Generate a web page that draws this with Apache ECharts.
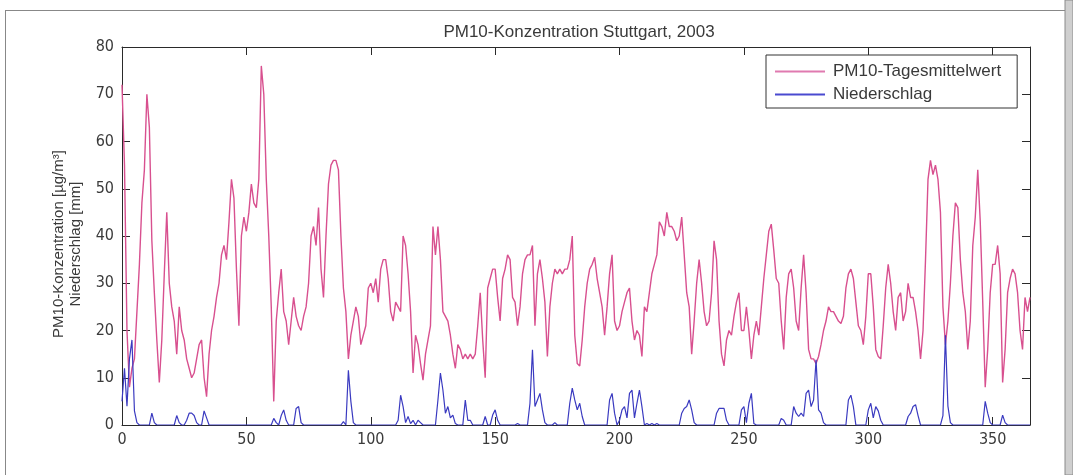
<!DOCTYPE html>
<html>
<head>
<meta charset="utf-8">
<script src="https://cdn.jsdelivr.net/npm/echarts@6/dist/echarts.min.js"></script>
<style>
html,body{margin:0;padding:0;background:#fff;}
#chart{width:1073px;height:475px;}
</style>
</head>
<body>
<div id="chart"></div>
<script>
// PM10 daily means, day 0..365
const pm10 = [
72,55,20,8,12,14,24,34,47,54,70,
63,39,28,18,9,18,32,45,30,25,
22,15,25,20,18,14,12,10,11,14,
17,18,10,6,15,20,23,27,30,36,
38,35,43,52,48,33,21,40,44,41,
45,51,47,46,52,76,70,52,40,25,
5,22,28,33,24,22,17,22,27,23,
21,20,23,25,30,40,42,38,46,33,
27,40,51,55,56,56,54,40,29,24,
14,19,22,25,23,17,19,21,29,30,
28,31,26,33,35,35,31,24,22,26,
25,24,40,38,32,24,11,19,17,13,
9.5,15,18,21,42,36,42,35,24,23,
22,19,15,12,17,16,14,15,14,15,
14,15,21,28,18,10,29,31,33,33,
27,22,31,33,36,35,27,26,21,25,
32,35,36,36,38,21,32,35,31,26,
14.5,25,30,33,32,33,32,33,33,35,
40,19,13,12.5,18,25,30,33,34,35.5,
31,28,25,19,25,32,36,22,20,21,
24,26,28,29,22,18,20,19,14.5,25,
24,28,32,34,36,43,42,40,45,42,
42,41,39,40,44,36,28,25,15,22,
30,35,30,24,21,22,28,39,35,22,
15,12.5,18,20,19,23,26,28,20,20,
25,20,14,19,22,19,25,31,36,41,
42.5,37,31,30,22,16,27,32,33,29,
22,20,29,36,28,16,14,14,13,14.5,
17,20,22,25,24,24,23,22,21.5,23,
29,32,33,31,26,21,20,17,23,32,
32,25,16,14.5,14,21,29,34,30,24,
20,27,28,22,24,30,27,27,24,20,
14,20,35,52,56,53,55,52,45,25,
17,22,30,40,47,46,35,28,24,16,
22,38,44,54,43,26,8,16,28,34,
34,38,32,9,16,28,31,33,32,28,
20,16,27,24,27
];
// Precipitation: days with rain and amounts (mm); all other days 0
const rainDays = [0,1,2,3,4,5,6,12,13,22,23,26,27,28,29,30,33,34,61,62,64,65,66,70,71,72,89,91,92,93,
111,112,113,114,115,116,117,119,120,127,128,129,130,131,132,133,134,138,139,140,146,149,150,151,159,
164,165,166,167,168,169,170,174,180,181,182,183,184,185,196,197,198,200,201,202,203,204,205,206,207,208,209,
211,213,215,225,226,227,228,229,230,239,240,241,242,243,249,250,251,252,253,254,265,266,270,271,272,273,274,
275,276,277,278,279,280,281,282,292,293,294,300,301,302,303,304,305,316,317,318,319,320,330,331,332,333,347,348,349,354,355];
const rainValues = [5,12,4,14,18,3,0.5,2.5,0.5,2,0.5,1,2.5,2.5,2,0.5,3,1.5,1.4,0.5,2,3.2,1,3.5,3.9,0.5,0.7,11.6,5,0.5,
1,6.3,3.9,0.5,1.8,0.3,1,1,0.5,5.3,11,7.4,2.5,3.9,1.5,2.1,0.3,5.3,1,1,1.8,2.1,3.2,1,0.3,
4.6,15.9,3.9,5.3,6.7,3.2,0.5,0.5,4.6,7.8,5.3,3.2,4.6,1.8,5.3,6.7,2.5,1,3.2,3.9,1.5,6.7,7.4,1.5,4.6,7.4,3.9,
0.3,0.3,0.3,2.5,3.5,3.9,5.3,3.2,0.5,2.5,3.5,3.5,3.5,1,3.2,3.9,0.5,4.6,6.7,0.3,1.4,1,3.9,2.5,1.8,2.5,1.8,
6.7,7.4,3.9,5.3,13.8,3.2,2.5,0.5,5.3,6.3,3.9,3.2,4.6,1.5,3.9,3,1,1.8,2.5,3.9,4.3,2,2,19,4,0.5,5,2.5,0.5,2.1,0.5];
const xTicks = [0,50,100,150,200,250,300,350];
const yTicks = [0,10,20,30,40,50,60,70,80];

const rain = pm10.map(() => 0);
rainDays.forEach((d, i) => { rain[d] = rainValues[i]; });
const pmData = pm10.map((v, i) => [i, v]);
const rainData = rain.map((v, i) => [i, v]);

const textColor = '#3a3a3a';
const frameColor = '#2a2a2a';
const font = '"Liberation Sans", Arial, sans-serif';
const narrow = '"Liberation Sans Narrow", "DejaVu Sans Condensed", "Liberation Sans", sans-serif';

const chart = echarts.init(document.getElementById('chart'), null, {renderer: 'canvas'});
const axisCommonX = {
  type: 'value', min: 0, max: 365, interval: 50,
  axisLine: {show: true, onZero: false, lineStyle: {color: frameColor, width: 1}},
  axisTick: {show: true, inside: true, length: 8, lineStyle: {color: frameColor}},
  splitLine: {show: false}
};
const axisCommonY = {
  type: 'value', min: 0, max: 80, interval: 10,
  axisLine: {show: true, onZero: false, lineStyle: {color: frameColor, width: 1}},
  axisTick: {show: true, inside: true, length: 8, lineStyle: {color: frameColor}},
  splitLine: {show: false}
};
chart.setOption({
  animation: false,
  backgroundColor: '#fff',
  title: {
    text: 'PM10-Konzentration Stuttgart, 2003',
    left: 574, top: 19, textAlign: 'center',
    textStyle: {fontFamily: font, fontSize: 17, fontWeight: 'normal', color: textColor}
  },
  legend: {
    orient: 'vertical',
    left: 766, top: 55,
    padding: [8, 16, 5, 9],
    itemGap: 6,
    itemWidth: 50, itemHeight: 2,
    backgroundColor: '#fff',
    borderColor: '#333', borderWidth: 1,
    textStyle: {fontFamily: font, fontSize: 17, color: textColor, padding: [0, 0, 0, 3]},
    data: [
      {name: 'PM10-Tagesmittelwert', icon: 'rect'},
      {name: 'Niederschlag', icon: 'rect'}
    ]
  },
  grid: {left: 122, right: 43, top: 47, bottom: 50, containLabel: false},
  xAxis: [
    Object.assign({}, axisCommonX, {
      position: 'bottom',
      axisLabel: {show: true, margin: 7, fontFamily: narrow, fontSize: 16, color: textColor,
        formatter: v => xTicks.includes(v) ? String(v) : ''}
    }),
    Object.assign({}, axisCommonX, {position: 'top', axisLabel: {show: false}})
  ],
  yAxis: [
    Object.assign({}, axisCommonY, {
      position: 'left',
      name: 'PM10-Konzentration [µg/m³]\nNiederschlag [mm]',
      nameLocation: 'middle', nameRotate: 90, nameGap: 30,
      nameTextStyle: {fontFamily: font, fontSize: 15, color: textColor, lineHeight: 17, padding: [0, 16, 0, 0]},
      axisLabel: {show: true, margin: 8, fontFamily: narrow, fontSize: 16, color: textColor,
        formatter: v => yTicks.includes(v) ? String(v) : ''}
    }),
    Object.assign({}, axisCommonY, {position: 'right', axisLabel: {show: false}})
  ],
  graphic: [
    {type: 'line', shape: {x1: 5, y1: 10.5, x2: 1065, y2: 10.5}, style: {stroke: '#888', lineWidth: 1}, silent: true},
    {type: 'line', shape: {x1: 5.5, y1: 10, x2: 5.5, y2: 475}, style: {stroke: '#888', lineWidth: 1}, silent: true},
    {type: 'rect', shape: {x: 1065, y: 0, width: 8, height: 475}, style: {fill: '#cfcfcf', stroke: '#8a8a8a', lineWidth: 1}, silent: true}
  ],
  series: [
    {
      name: 'PM10-Tagesmittelwert', type: 'line', xAxisIndex: 0, yAxisIndex: 0,
      data: pmData, showSymbol: false, symbol: 'none',
      lineStyle: {color: '#d8508f', width: 1.4},
      itemStyle: {color: '#e07ab0'}
    },
    {
      name: 'Niederschlag', type: 'line', xAxisIndex: 0, yAxisIndex: 0,
      data: rainData, showSymbol: false, symbol: 'none',
      lineStyle: {color: '#3a3ac0', width: 1.2},
      itemStyle: {color: '#4a4ad0'}
    }
  ]
});
</script>
</body>
</html>
